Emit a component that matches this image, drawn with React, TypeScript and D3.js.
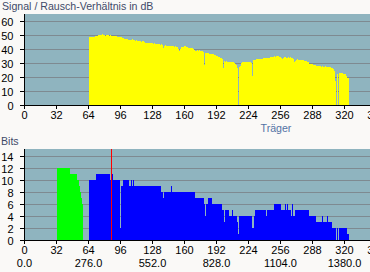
import React from "react";
import * as d3 from "d3";

// ---------- DATA ----------
const xTicks = [0, 32, 64, 96, 128, 160, 192, 224, 256, 288, 320, 352];
const freqTicks = [0, 64, 128, 192, 256, 320];
const freqLabels = ["0.0", "276.0", "552.0", "828.0", "1104.0", "1380.0"];
const snrTicks = [0, 10, 20, 30, 40, 50, 60];
const bitTicks = [0, 2, 4, 6, 8, 10, 12, 14];

const SNR_START = 64;
const snr = [
  48.3, 48.3, 48.6, 48.6, 48.6, 48.6, 49, 49, 49.6, 50, 50.2, 50, 50, 50.4, 50.2, 50,
  49.6, 50, 50.2, 49.8, 49.6, 49.8, 49.4, 49.6, 49.6, 49.2, 49, 49.4, 48.8, 48.8, 48.6, 48.6,
  48.6, 48.2, 47.6, 47, 47.2, 46.8, 46.8, 46.4, 46.6, 46.2, 46.4, 46.8, 46.2, 46.4, 46, 46.2,
  45.6, 45.6, 45.4, 45.6, 45.2, 45.4, 45.4, 45, 44.6, 44.4, 44.6, 44.2, 44.4, 44, 44.2, 44.4,
  43.8, 44, 43.6, 43.4, 43.8, 43.6, 43.4, 43.2, 43.4, 43, 40.8, 42, 42.6, 42.4, 42.2, 42.4,
  42.2, 42, 41.8, 42, 41.8, 41.6, 41.8, 41.4, 41.6, 40.2, 38.6, 40, 41.2, 41.4, 41.6, 41.8,
  41.8, 41.6, 41.4, 41, 40.8, 40.6, 40.8, 40.4, 40.2, 39.6, 38.4, 38.6, 39, 38.8, 39, 38.8,
  38.6, 38.8, 38.2, 28.8, 37.2, 37.4, 37, 36.8, 36.6, 36.4, 36.6, 36.4, 36.2, 36, 35.6, 35.2,
  34.8, 34.6, 34, 33.6, 33.4, 33, 26.4, 31.4, 31, 31.2, 30.8, 31, 30.6, 30.8, 30.6, 30.4,
  30.6, 30, 29, 28.4, 26.4, 0, 27.2, 27.6, 29.8, 30.4, 30.8, 31, 30.6, 30.8, 30.6, 30.8,
  30.4, 30.6, 29.8, 21, 31.8, 32.2, 32.4, 32.8, 33, 32.8, 33.2, 33, 32.6, 32.8, 33.4, 33.6,
  33.4, 33.6, 33.8, 33.6, 33.8, 34, 34.2, 34.6, 34.4, 34.8, 34.6, 34.8, 35, 34.8, 34.6, 34.4,
  33.6, 33.2, 33.6, 34, 34.4, 33.6, 33.8, 34, 33.8, 34.2, 33.4, 33.6, 32.6, 31, 31.2, 32,
  32.6, 32.4, 32.2, 32.4, 31.8, 32, 31.8, 31.4, 31.2, 31.6, 31, 30.8, 29.6, 29.2, 29.6, 29.4,
  28.8, 28.6, 28.4, 28, 28.2, 27.8, 27.6, 27.8, 27.4, 27.6, 27.2, 27.4, 27.6, 27.2, 27, 27.4,
  27.2, 26.8, 26.6, 26.2, 25.4, 24.2, 17, 0, 22.4, 0, 22.8, 23, 22.8, 22.6, 22.4, 22.2,
  21.8, 20.6, 19.6, 19.2,
];

const UP_START = 32;
const upBits = [
  12, 12, 12, 12, 12, 12, 12, 12, 12, 12, 12, 12, 12,
  11, 11, 11, 11, 11, 11, 11,
  10, 10, 9, 8, 7, 6,
];

const DOWN_START = 64;
const downBits = [
  10, 10, 10, 10, 10, 10, 10, 11, 11, 11, 11, 11, 11, 11, 11, 11,
  11, 11, 11, 11, 11, 10, 11, 11, 10, 10, 10, 10, 10, 10, 10, 2,
  9, 9, 10, 10, 10, 10, 10, 10, 9, 9, 10, 9, 10, 9, 9, 9,
  9, 9, 9, 9, 9, 9, 9, 9, 9, 9, 9, 9, 9, 9, 9, 9,
  9, 9, 9, 9, 9, 9, 9, 9, 8, 8, 7, 8, 8, 8, 8, 8,
  8, 8, 9, 8, 8, 8, 8, 8, 8, 8, 8, 8, 8, 8, 8, 8,
  8, 8, 8, 8, 8, 8, 8, 8, 8, 8, 7, 7, 7, 7, 7, 7,
  7, 7, 7, 6, 4, 6, 6, 7, 7, 7, 7, 6, 6, 6, 6, 6,
  6, 6, 6, 6, 6, 5, 5, 3, 5, 5, 5, 5, 4, 4, 4, 5,
  4, 4, 4, 4, 3, 1, 4, 4, 4, 4, 4, 4, 4, 4, 4, 4,
  4, 4, 4, 2, 2, 4, 5, 5, 5, 5, 5, 5, 5, 5, 5, 5,
  5, 4, 5, 5, 5, 5, 5, 5, 5, 6, 6, 6, 6, 6, 6, 6,
  5, 5, 5, 5, 6, 5, 6, 5, 5, 5, 4, 6, 4, 4, 5, 5,
  5, 5, 5, 5, 5, 5, 5, 5, 5, 5, 5, 5, 4, 4, 4, 4,
  4, 4, 4, 3, 3, 3, 3, 3, 3, 4, 3, 3, 3, 3, 4, 3,
  3, 3, 3, 2, 2, 2, 2, 0, 2, 0, 2, 2, 2, 2, 2, 2,
  2, 2, 1, 1,
];

const markerCarrier = 86;

// ---------- STYLE ----------
const FONT = "'Liberation Sans', Arial, sans-serif";
const PAGE_BG = "#faf9f7";
const PLOT_BG = "#8fb4bf";
const GRID = "#7e8a91";
const TITLE_C = "#3f4a68";
const LABEL_C = "#5272a4";

const W = 370;
const H = 272;

// bar of carrier c occupies pixel column 25 + c; tick for value v sits at pixel 24 + v
const xBar = d3.scaleLinear().domain([0, 1]).range([25, 26]);
const xTick = (v: number) => 24.5 + v;

function Panel(props: {
  top: number;
  zero: number;
  maxV: number;
  ticks: number[];
  children?: (y: d3.ScaleLinear<number, number>) => React.ReactNode;
  extraLabels?: boolean;
}) {
  const { top, zero, maxV, ticks } = props;
  const y = d3.scaleLinear().domain([0, maxV]).range([zero, top]);
  return (
    <g>
      <rect x={25} y={top} width={W - 25} height={zero - top} fill={PLOT_BG} />
      {ticks
        .filter((t) => t > 0)
        .map((t) => (
          <line key={"g" + t} x1={25} x2={W} y1={y(t) + 0.5} y2={y(t) + 0.5} stroke={GRID} strokeWidth={1} />
        ))}
      {props.children ? props.children(y) : null}
      {/* axes */}
      <line x1={24.5} x2={24.5} y1={top} y2={zero + 4} stroke="#000" strokeWidth={1} />
      <line x1={24} x2={W} y1={zero + 0.5} y2={zero + 0.5} stroke="#000" strokeWidth={1} />
      {ticks.map((t) => (
        <g key={"yt" + t}>
          <line x1={20} x2={24} y1={y(t) + 0.5} y2={y(t) + 0.5} stroke="#000" strokeWidth={1} />
          <text x={13.5} y={y(t) + 4.5} textAnchor="end" fontSize={11} fontFamily={FONT} fill="#000">
            {t}
          </text>
        </g>
      ))}
      {xTicks.map((t) => (
        <g key={"xt" + t}>
          <line x1={xTick(t)} x2={xTick(t)} y1={zero + 1} y2={zero + 4} stroke="#000" strokeWidth={1} />
          <text x={xTick(t)} y={zero + 14} textAnchor="middle" fontSize={11} fontFamily={FONT} fill="#000">
            {t}
          </text>
        </g>
      ))}
    </g>
  );
}

export default function App() {
  return (
    <svg
      width={W}
      height={H}
      style={{ position: "absolute", left: 0, top: 0, background: PAGE_BG }}
      shapeRendering="crispEdges"
    >
      <rect x={0} y={0} width={W} height={H} fill={PAGE_BG} />
      <text x={2} y={10} fontSize={10.6} fontFamily={FONT} fill={TITLE_C}>
        Signal / Rausch-Verhältnis in dB
      </text>
      <Panel top={14} zero={105} maxV={65} ticks={snrTicks}>
        {(y) =>
          snr.map((v, i) =>
            v > 0 ? (
              <rect key={i} x={xBar(SNR_START + i)} y={y(v)} width={1} height={105 - y(v)} fill="#ffff00" />
            ) : null
          )
        }
      </Panel>
      <text x={276} y={132} textAnchor="middle" fontSize={10.6} fontFamily={FONT} fill={LABEL_C}>
        Träger
      </text>

      <text x={1} y={145} fontSize={10.6} fontFamily={FONT} fill={TITLE_C}>
        Bits
      </text>
      <Panel top={149} zero={240} maxV={91 / 6} ticks={bitTicks}>
        {(y) => (
          <g>
            {upBits.map((v, i) =>
              v > 0 ? (
                <rect key={"u" + i} x={xBar(UP_START + i)} y={y(v)} width={1} height={240 - y(v)} fill="#00ff00" />
              ) : null
            )}
            {downBits.map((v, i) =>
              v > 0 ? (
                <rect key={"d" + i} x={xBar(DOWN_START + i)} y={y(v)} width={1} height={240 - y(v)} fill="#0000ff" />
              ) : null
            )}
            <rect x={xBar(markerCarrier)} y={149} width={1} height={91} fill="#ff0000" />
          </g>
        )}
      </Panel>
      {freqTicks.map((t, i) => (
        <text key={"f" + t} x={xTick(t)} y={267} textAnchor="middle" fontSize={11} fontFamily={FONT} fill="#000">
          {freqLabels[i]}
        </text>
      ))}
    </svg>
  );
}
